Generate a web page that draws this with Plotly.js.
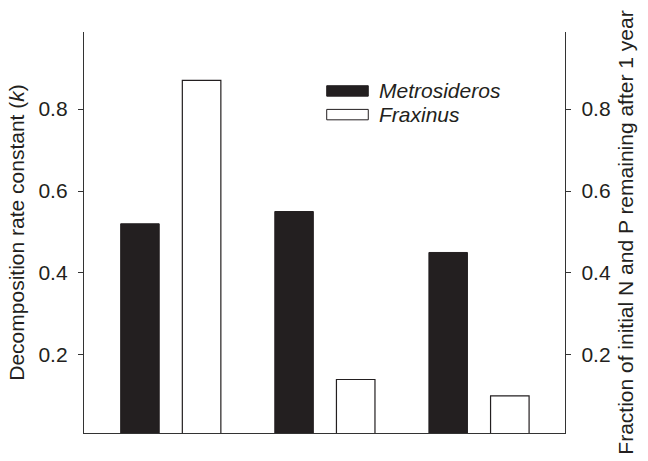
<!DOCTYPE html>
<html>
<head>
<meta charset="utf-8">
<script src="https://cdn.plot.ly/plotly-3.0.1.min.js"></script>
<style>html,body{margin:0;padding:0;background:#fff;}#chart{width:648px;height:461px;}</style>
</head>
<body>
<div id="chart"></div>
<script>
// Data
var groups = [0, 1, 2];
var seriesNames = ["Metrosideros", "Fraxinus"];
var metrosideros = [0.52, 0.55, 0.45];
var fraxinus = [0.87, 0.14, 0.10];
var tickVals = [0.2, 0.4, 0.6, 0.8];
var tickText = ["0.2", "0.4", "0.6", "0.8"];
var leftTitle = "Decomposition rate constant (<i>k</i>)";
var rightTitle = "Fraction of initial N and P remaining after 1 year";

var ink = "#231f20";
var fontFam = "Liberation Sans, Arial, sans-serif";
var fs = 21;
var yRange = [0.0095, 0.988];

var traces = [
  {type: "bar", x: groups, y: metrosideros, name: seriesNames[0],
   width: 0.25, offset: -0.325,
   marker: {color: ink, line: {color: ink, width: 1}}, showlegend: false},
  {type: "bar", x: groups, y: fraxinus, name: seriesNames[1],
   width: 0.25, offset: 0.075,
   marker: {color: "#ffffff", line: {color: ink, width: 1.2}}, showlegend: false},
  {type: "scatter", x: [groups[0]], y: [null], yaxis: "y2", showlegend: false, hoverinfo: "skip"}
];

var legendY = [0.853, 0.794];
var shapes = [];
var annotations = [];
seriesNames.forEach(function(n, i) {
  shapes.push({type: "rect", xref: "paper", yref: "paper",
    x0: 0.5046, x1: 0.591, y0: legendY[i] - 0.013, y1: legendY[i] + 0.013,
    fillcolor: i === 0 ? ink : "#ffffff", line: {color: ink, width: 1}});
  annotations.push({xref: "paper", yref: "paper", x: 0.609, y: legendY[i],
    xanchor: "left", yanchor: "middle", showarrow: false,
    text: "<i>" + n + "</i>", font: {family: fontFam, size: fs, color: ink}});
});

var layout = {
  width: 648, height: 461,
  margin: {l: 84, r: 83, t: 32, b: 28},
  paper_bgcolor: "#fff", plot_bgcolor: "#fff",
  font: {family: fontFam, size: fs, color: ink},
  showlegend: false,
  bargap: 0,
  xaxis: {range: [-0.563, 2.558], showgrid: false, zeroline: false,
    showticklabels: false, ticks: "", showline: true, linecolor: "#333", linewidth: 1.2, fixedrange: true},
  yaxis: {range: yRange, showgrid: false, zeroline: false,
    tickvals: tickVals, ticktext: tickText, ticks: "outside", ticklen: 5, tickcolor: "#333",
    showline: true, linecolor: "#333", linewidth: 1.2, ticklabelstandoff: 6,
    automargin: false,
    title: {text: leftTitle, font: {family: fontFam, size: fs, color: ink}, standoff: 8}},
  yaxis2: {range: yRange, overlaying: "y", side: "right", showgrid: false, zeroline: false,
    tickvals: tickVals, ticktext: tickText, ticks: "outside", ticklen: 5, tickcolor: "#333",
    showline: true, linecolor: "#333", linewidth: 1.2, ticklabelstandoff: 6,
    automargin: false,
    title: {text: rightTitle, font: {family: fontFam, size: fs, color: ink}, standoff: 8}},
  shapes: shapes,
  annotations: annotations
};

Plotly.newPlot("chart", traces, layout, {displayModeBar: false, staticPlot: true});
</script>
</body>
</html>
